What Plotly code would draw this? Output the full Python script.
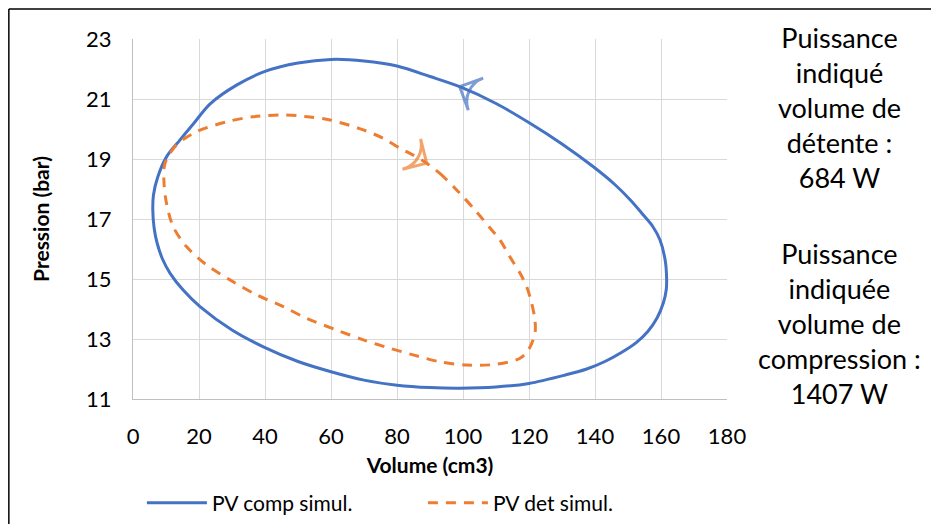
import plotly.graph_objects as go

# Data
comp_vol = [99, 90, 80, 70, 60, 50, 40, 31.5, 23.3, 18.5, 14.2, 10.2, 7.5, 6.2, 6, 6.4, 7.3, 9,
            11.3, 15.2, 20.3, 30, 39.5, 50, 60, 70, 80, 90, 99, 110, 120, 131, 137.5, 143, 148, 152.5,
            156, 158.8, 160.7, 161.6, 161.7, 161.3, 159.7, 157.5, 154.5, 151, 146, 139.5, 130, 120.3,
            110, 99]
comp_p = [21.41, 21.75, 22.1, 22.27, 22.32, 22.2, 21.92, 21.47, 20.83, 20.2, 19.63, 19.08, 18.4,
          17.8, 17.3, 16.7, 16.2, 15.65, 15.18, 14.63, 14.08, 13.3, 12.74, 12.25, 11.91, 11.63,
          11.46, 11.38, 11.36, 11.4, 11.52, 11.8, 12.0, 12.25, 12.55, 12.88, 13.25, 13.7, 14.2,
          14.65, 15.02, 15.6, 16.3, 16.75, 17.15, 17.6, 18.15, 18.74, 19.5, 20.19, 20.85, 21.41]

det_vol = [89, 93, 98.6, 104.1, 108.2, 111.2, 114.2, 117.3, 119.3, 120.8, 121.8, 121.8, 119.8,
           117.3, 110.2, 101.1, 93, 84.9, 77.9, 69.8, 61.7, 52.6, 45.5, 37.5, 29.4, 22.3, 16.2,
           12.2, 10.2, 9.4, 9.7, 13.2, 19.3, 28.4, 36.5, 45.5, 52, 59.7, 69.8, 75.8, 80.9, 84.9, 89]
det_p = [18.86, 18.52, 17.91, 17.24, 16.7, 16.3, 15.74, 15.19, 14.74, 14.19, 13.63, 13.19, 12.63,
         12.36, 12.16, 12.13, 12.24, 12.47, 12.69, 12.97, 13.3, 13.69, 14.08, 14.47, 14.97, 15.47,
         16.08, 16.74, 17.5, 18.2, 18.86, 19.47, 19.91, 20.24, 20.41, 20.47, 20.42, 20.3, 19.97,
         19.69, 19.36, 19.13, 18.86]

x_ticks = [0, 20, 40, 60, 80, 100, 120, 140, 160, 180]
y_ticks = [11, 13, 15, 17, 19, 21, 23]

BLUE = "#4472C4"
ORANGE = "#ED7D31"
FONT = "Lato"

fig = go.Figure()

fig.add_trace(go.Scatter(x=comp_vol, y=comp_p, mode="lines", name="PV comp simul.",
                         line=dict(color=BLUE, width=3, shape="spline", smoothing=0.9)))
fig.add_trace(go.Scatter(x=det_vol, y=det_p, mode="lines", name="PV det simul.",
                         line=dict(color=ORANGE, width=3, dash="10px,8px", shape="spline", smoothing=0.9)))

# open arrow heads at the end of each series
for xs, ys, col in [(comp_vol, comp_p, BLUE), (det_vol, det_p, ORANGE)]:
    fig.add_trace(go.Scatter(x=xs[-2:], y=ys[-2:], mode="markers", showlegend=False, hoverinfo="skip",
                             marker=dict(symbol=["circle", "arrow-wide-open"], size=[0, 25],
                                         angleref="previous", color=col,
                                         line=dict(color=col, width=3))))

# page body has an 8px margin; figure runs a bit past the window bottom so the legend fits
fig.update_layout(
    width=931, height=540,
    margin=dict(l=125, r=212, t=31, b=149),
    paper_bgcolor="white", plot_bgcolor="white",
    font=dict(family=FONT, size=22, color="black"),
    showlegend=True,
    legend=dict(orientation="h", x=0.015, xanchor="left",
                y=-0.289, yanchor="middle", itemwidth=60,
                entrywidth=206, entrywidthmode="pixels", font=dict(size=21)),
)

fig.update_xaxes(range=[0, 180], tickvals=x_ticks, showgrid=True, gridcolor="#D9D9D9", gridwidth=1.3,
                 showline=True, linecolor="#BFBFBF", linewidth=1.3, zeroline=False,
                 ticks="", ticklabelstandoff=17,
                 title=dict(text="<b>Volume (cm3)</b>", font=dict(size=21), standoff=10))
fig.update_yaxes(range=[11, 23], tickvals=y_ticks, showgrid=True, gridcolor="#D9D9D9", gridwidth=1.3,
                 showline=True, linecolor="#BFBFBF", linewidth=1.3, zeroline=False,
                 ticks="", ticklabelstandoff=16,
                 title=dict(text="<b>Pression (bar)</b>", font=dict(size=21), standoff=30))

# right-hand text boxes
fig.add_annotation(xref="paper", yref="paper", x=1.19, y=0.81, xanchor="center", yanchor="middle",
                   text="Puissance<br>indiqué<br>volume de<br>détente :<br>684 W",
                   showarrow=False, align="center", font=dict(size=27))
fig.add_annotation(xref="paper", yref="paper", x=1.19, y=0.21, xanchor="center", yanchor="middle",
                   text="Puissance<br>indiquée<br>volume de<br>compression :<br>1407 W",
                   showarrow=False, align="center", font=dict(size=27))

# chart frame (top and left edges visible)
fig.add_shape(type="line", xref="paper", yref="paper", x0=-0.209, x1=1.36, y0=1.0833, y1=1.0833,
              line=dict(color="black", width=1.5))
fig.add_shape(type="line", xref="paper", yref="paper", x0=-0.209, x1=-0.209, y0=1.0833, y1=-0.42,
              line=dict(color="black", width=1.5))

fig.write_html("out.html")
